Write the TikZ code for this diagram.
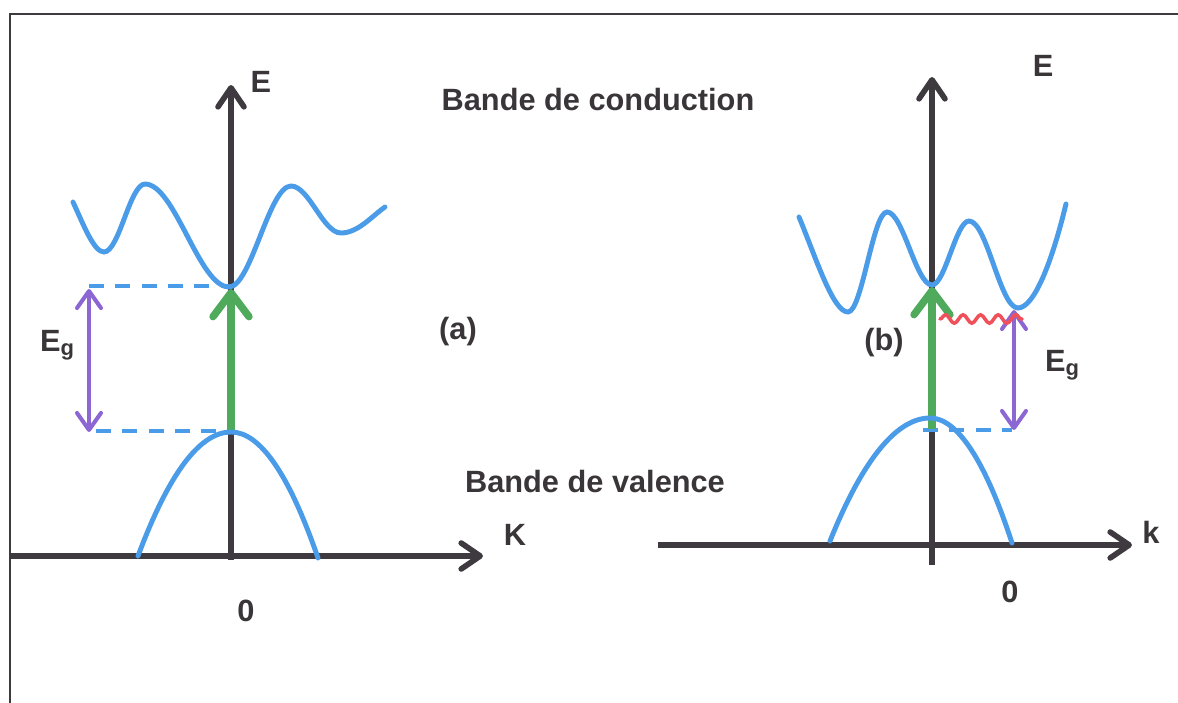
\documentclass[tikz,border=0pt]{standalone}
\usepackage{fontspec}
\setmainfont{Liberation Sans}
\usetikzlibrary{arrows.meta,decorations.pathmorphing}
\definecolor{axisc}{HTML}{3E3A40}
\definecolor{bandc}{HTML}{4A9BE8}
\definecolor{purp}{HTML}{8C66D2}
\definecolor{grn}{HTML}{4FAA5C}
\definecolor{redw}{HTML}{F0505A}
\definecolor{txt}{HTML}{3A3538}
\newcommand{\egsym}{E\raisebox{-2pt}{\fontsize{12.5}{13}\selectfont g}}
\begin{document}
\begin{tikzpicture}[x=0.02cm,y=-0.02cm,
 lbl/.style={text=txt, font=\fontsize{17.5}{20}\selectfont\bfseries, inner sep=0pt},
 axisline/.style={draw=axisc, line width=3.2pt, -{Straight Barb[length=0.38cm,width=0.52cm,round]}},
 band/.style={draw=bandc, line width=2.8pt, line cap=round},
 gapline/.style={draw=bandc, line width=2pt, dash pattern=on 8.5pt off 6.5pt},
 egarrow/.style={draw=purp, line width=2.3pt, {Straight Barb[length=0.34cm,width=0.48cm,round]}-{Straight Barb[length=0.34cm,width=0.48cm,round]}},
 trans/.style={draw=grn, line width=4.2pt, -{Straight Barb[length=0.48cm,width=0.72cm,round]}},
 phonon/.style={draw=redw, line width=2pt, line cap=round, decorate, decoration={snake, amplitude=2.4pt, segment length=10pt}},
 frameline/.style={draw=axisc, line width=1.6pt}]

\useasboundingbox (0,0) rectangle (1178,703);

% frame
\coordinate (f1) at (10,703);
\coordinate (f2) at (10,14);
\coordinate (f3) at (1178,14);
\draw[frameline] (f1) -- (f2) -- (f3);

% ---------- panel (a) ----------
\coordinate (aL) at (10,556);
\coordinate (aR) at (483,556);
\coordinate (aB) at (231,560);
\coordinate (aT) at (231,85);
\draw[axisline] (aL) -- (aR);
\draw[axisline] (aB) -- (aT);

\coordinate (aD1) at (89,286);
\coordinate (aCmin) at (229,286);
\coordinate (aD2) at (96,431);
\coordinate (aVmax) at (231,431);
\draw[gapline] (aD1) -- (aCmin);
\draw[gapline] (aD2) -- (aVmax);

\coordinate (aP1) at (89,289);
\coordinate (aP2) at (89,432);
\draw[egarrow] (aP1) -- (aP2);

\coordinate (aG1) at (231,431);
\coordinate (aG2) at (231,289);
\draw[trans] (aG1) -- (aG2);

\draw[band] (73,202) .. controls (84,226) and (94,252) .. (104,252)
 .. controls (119,252) and (130,184) .. (145,184)
 .. controls (175,184) and (199,287) .. (229,287)
 .. controls (251,287) and (269,186) .. (291,186)
 .. controls (309,186) and (323,233) .. (341,233)
 .. controls (358,233) and (372,216) .. (385,207);
\draw[band] (138,556) .. controls (169,473) and (200,432) .. (231,432)
 .. controls (260,432) and (289,474) .. (318,558);

\node[lbl] (aE) at (261,82) {E};
\node[lbl] (aK) at (515,535) {K};
\node[lbl] (a0) at (246,611) {0};
\node[lbl] (alab) at (458,332) {(a)};
\node[lbl] (aEg) at (57,345) {\egsym};

% ---------- panel (b) ----------
\coordinate (bL) at (658,545);
\coordinate (bR) at (1132,545);
\coordinate (bB) at (932,565);
\coordinate (bT) at (932,77);
\draw[axisline] (bL) -- (bR);
\draw[axisline] (bB) -- (bT);

\coordinate (bD1) at (923,430);
\coordinate (bD2) at (1012,430);
\draw[gapline] (bD1) -- (bD2);

\coordinate (bP1) at (1014,310);
\coordinate (bP2) at (1014,430);
\draw[egarrow] (bP1) -- (bP2);

\coordinate (bG1) at (932,429);
\coordinate (bG2) at (932,287);
\draw[trans] (bG1) -- (bG2);

\coordinate (bW1) at (940,319);
\coordinate (bW2) at (1022,319);
\draw[phonon] (bW1) -- (bW2);

\draw[band] (799,217) .. controls (816,258) and (833,312) .. (848,312)
 .. controls (862,312) and (873,212) .. (887,212)
 .. controls (903,212) and (916,285) .. (932,285)
 .. controls (945,285) and (956,221) .. (969,221)
 .. controls (987,221) and (1000,308) .. (1018,308)
 .. controls (1034,308) and (1052,262) .. (1066,204);
\draw[band] (830,541) .. controls (863,459) and (897,418) .. (930,418)
 .. controls (957,418) and (985,460) .. (1012,543);

\node[lbl] (bE) at (1043,66) {E};
\node[lbl] (bk) at (1151,532) {k};
\node[lbl] (b0) at (1010,592) {0};
\node[lbl] (blab) at (884,343) {(b)};
\node[lbl] (bEg) at (1062,365) {\egsym};

% ---------- band names ----------
\node[lbl] (cond) at (598,100) {Bande de conduction};
\node[lbl] (val) at (595,482) {Bande de valence};
\end{tikzpicture}
\end{document}
